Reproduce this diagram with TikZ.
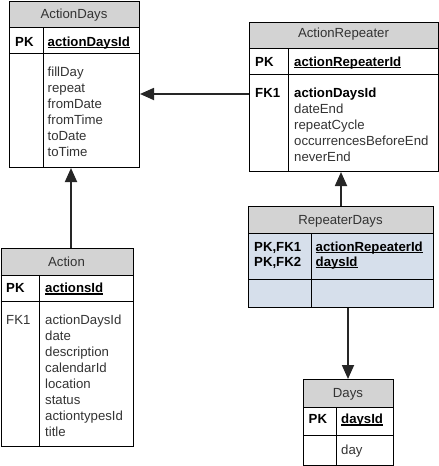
\documentclass[tikz,border=0pt]{standalone}
\usepackage{fontspec}
\setmainfont{Liberation Sans}
\usetikzlibrary{arrows.meta}
\definecolor{hdr}{HTML}{D3D3D3}
\definecolor{blu}{HTML}{D6DFEB}
\definecolor{ink}{HTML}{333333}
\newcommand\myul[1]{\setbox0\hbox{#1}\rlap{\rule[-2pt]{\wd0}{1.1pt}}\box0}
\begin{document}
\begin{tikzpicture}[x=1pt,y=-1pt,
  tbl/.style={draw=black, line width=1pt, inner sep=0pt, anchor=north west},
  rule/.style={draw=black, line width=1pt},
  txt/.style={anchor=base west, inner sep=0pt, font=\fontsize{13.2}{16}\selectfont, text=ink},
  bld/.style={anchor=base west, inner sep=0pt, font=\fontsize{13.2}{16}\selectfont\bfseries, text=black},
  ttl/.style={anchor=base, inner sep=0pt, font=\fontsize{13.2}{16}\selectfont, text=ink},
  conn/.style={line width=1.8pt, draw=black!85},
  tip/.style={-{Triangle[length=14pt,width=12pt]}}
]
\useasboundingbox (0,0) rectangle (439,466);

% ---------------- ActionDays ----------------
\fill[hdr] (9,1) rectangle (139,27);
\node[tbl, minimum width=130pt, minimum height=166pt] (AD) at (9,1) {};
\draw[rule] (9,27) -- (139,27);
\draw[rule] (9,53) -- (139,53);
\draw[rule] (43,27) -- (43,167);
\node[ttl] (adt) at (74,18) {ActionDays};
\node[bld] (adpk) at (15,46) {PK};
\node[bld] (adid) at (47.5,46) {\myul{actionDaysId}};
\foreach \t [count=\i] in {fillDay,repeat,fromDate,fromTime,toDate,toTime}
  \node[txt] (adf\i) at (47.5,60+16*\i) {\t};

% ---------------- ActionRepeater ----------------
\fill[hdr] (249,22) rectangle (438,48);
\node[tbl, minimum width=189pt, minimum height=149pt] (AR) at (249,22) {};
\draw[rule] (249,48) -- (438,48);
\draw[rule] (249,74) -- (438,74);
\draw[rule] (288,48) -- (288,171);
\node[ttl] (art) at (343.5,37) {ActionRepeater};
\node[bld] (arpk) at (255,66) {PK};
\node[bld] (arid) at (294,66) {\myul{actionRepeaterId}};
\node[bld] (arfk) at (255,97) {FK1};
\node[bld] (arf0) at (294,97) {actionDaysId};
\foreach \t [count=\i] in {dateEnd,repeatCycle,occurrencesBeforeEnd,neverEnd}
  \node[txt] (arf\i) at (294,97+16*\i) {\t};

% ---------------- Action ----------------
\fill[hdr] (0.5,248) rectangle (133,275);
\node[tbl, minimum width=132.5pt, minimum height=198pt] (AC) at (0.5,248) {};
\draw[rule] (0.5,275) -- (133,275);
\draw[rule] (0.5,301) -- (133,301);
\draw[rule] (39,275) -- (39,446);
\node[ttl] (act) at (66.5,266) {Action};
\node[bld] (acpk) at (6,292.5) {PK};
\node[bld] (acid) at (45,292.5) {\myul{actionsId}};
\node[txt] (acfk) at (6,324.5) {FK1};
\foreach \t [count=\i] in {actionDaysId,date,description,calendarId,location,status,actiontypesId,title}
  \node[txt] (acf\i) at (45,308.5+16*\i) {\t};

% ---------------- RepeaterDays ----------------
\fill[blu] (248,206) rectangle (433,307);
\fill[hdr] (248,206) rectangle (433,233);
\node[tbl, minimum width=185pt, minimum height=101pt] (RD) at (248,206) {};
\draw[rule] (248,233) -- (433,233);
\draw[rule] (248,279) -- (433,279);
\draw[rule] (311,233) -- (311,307);
\node[ttl] (rdt) at (340.5,224) {RepeaterDays};
\node[bld] (rdk1) at (254,251) {PK,FK1};
\node[bld] (rdk2) at (254,266) {PK,FK2};
\node[bld] (rdf1) at (315.5,251) {\myul{actionRepeaterId}};
\node[bld] (rdf2) at (315.5,266) {\myul{daysId}};

% ---------------- Days ----------------
\fill[hdr] (303,379) rectangle (393,407);
\node[tbl, minimum width=90pt, minimum height=85.5pt] (DY) at (303,379) {};
\draw[rule] (303,407) -- (393,407);
\draw[rule] (303,435) -- (393,435);
\draw[rule] (336,407) -- (336,464.5);
\node[ttl] (dyt) at (348,397) {Days};
\node[bld] (dypk) at (308.5,423.5) {PK};
\node[bld] (dyid) at (341,423.5) {\myul{daysId}};
\node[txt] (dyf1) at (341,454.5) {day};

% ---------------- connectors ----------------
\draw[conn,tip] (AR.west |- 0,94) -- (AD.east |- 0,94);
\draw[conn,tip] (AC.north -| 71,0) -- (AD.south -| 71,0);
\draw[conn,tip] (RD.north -| 341,0) -- (AR.south -| 341,0);
\draw[conn,tip] (RD.south -| 348,0) -- (DY.north -| 348,0);
\end{tikzpicture}
\end{document}
